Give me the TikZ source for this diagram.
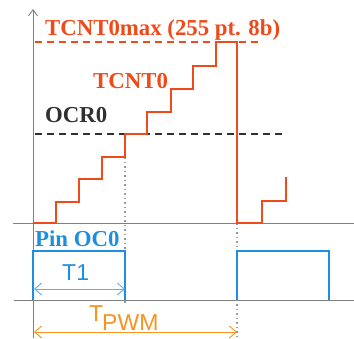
\documentclass[tikz,border=0pt]{standalone}
\usepackage{fontspec}
\setmainfont{Liberation Serif}
\newfontfamily\sansf{Liberation Sans}
\usetikzlibrary{arrows.meta}
\definecolor{cred}{HTML}{F04A1A}
\definecolor{cblue}{HTML}{1E8FE0}
\definecolor{clblue}{HTML}{5BB0F0}
\definecolor{corange}{HTML}{F7931E}
\definecolor{caxis}{HTML}{808080}
\definecolor{cdark}{HTML}{303030}
\tikzset{
  axisline/.style={draw=caxis, line width=0.9pt},
  sig/.style={draw=cred, line width=2pt},
  pulse/.style={draw=cblue, line width=2.4pt},
  dashline/.style={line width=2pt, dash pattern=on 7pt off 5pt},
  dotline/.style={draw=caxis!80, line width=1.2pt, dash pattern=on 1.5pt off 3pt},
  lbl/.style={inner sep=0pt, anchor=base west, font=\bfseries\fontsize{22.8}{24}\selectfont},
  slbl/.style={inner sep=0pt, anchor=base west, font=\sansf\fontsize{23}{25}\selectfont},
  dim/.style={line width=0.9pt, {Straight Barb[length=7pt,width=12pt]}-{Straight Barb[length=7pt,width=12pt]}},
}
\begin{document}
\begin{tikzpicture}[x=1pt,y=-1pt]
\useasboundingbox (0,0) rectangle (354,338);
% axes
\coordinate (ybot) at (33,338);
\coordinate (ytop) at (33,9);
\draw[axisline, -{Straight Barb[length=6pt,width=9pt]}] (ybot) -- (ytop);
\coordinate (a1l) at (13,223);
\coordinate (a1r) at (354,223);
\draw[axisline] (a1l) -- (a1r);
\coordinate (a2l) at (14,300);
\coordinate (a2r) at (354,300);
\draw[axisline] (a2l) -- (a2r);
% dotted guides
\coordinate (d1t) at (125,157);
\coordinate (d1b) at (125,304);
\draw[dotline] (d1t) -- (d1b);
\coordinate (d2t) at (237,223);
\coordinate (d2b) at (237,338);
\draw[dotline] (d2t) -- (d2b);
% dashed levels
\coordinate (mxl) at (35,42);
\coordinate (mxr) at (262,42);
\draw[dashline, draw=cred] (mxl) -- (mxr);
\coordinate (ocl) at (35,134);
\coordinate (ocr) at (283,134);
\draw[dashline, draw=cdark] (ocl) -- (ocr);
% staircase
\draw[sig, line join=miter] (33,223) -- (56,223) |- (79,202) |- (102,179) |- (125,157) |- (147,134)
  |- (171,112) |- (193,89) |- (216,66) |- (237,42) -- (237,223) -- (262,223) |- (286,201) -- (286,177);
% PWM pulses
\draw[pulse] (33,300) |- (125,251) -- (125,300);
\draw[pulse] (237,300) |- (329,251) -- (329,300);
% dimension arrows
\coordinate (t1l) at (34,289);
\coordinate (t1r) at (125,289);
\draw[dim, draw=clblue] (t1l) -- (t1r);
\coordinate (tpl) at (34,332);
\coordinate (tpr) at (237,332);
\draw[dim, draw=corange] (tpl) -- (tpr);
% labels
\node[lbl, text=cred] (lmax) at (45,35) {TCNT0max (255 pt. 8b)};
\node[lbl, text=cred] (ltc) at (93,88) {TCNT0};
\node[lbl, text=cdark] (locr) at (45,122) {OCR0};
\node[lbl, text=cblue] (lpin) at (35,246) {Pin OC0};
\node[slbl, text=cblue] (lt1) at (62,280) {T1};
\node[slbl, text=corange] (ltp) at (89,321) {T};
\node[slbl, text=corange] (ltpw) at (102,330) {PWM};
\end{tikzpicture}
\end{document}
